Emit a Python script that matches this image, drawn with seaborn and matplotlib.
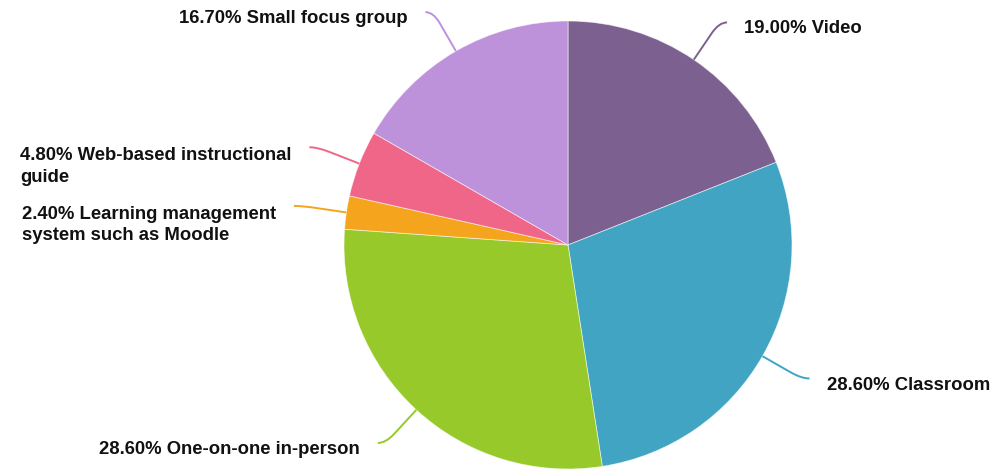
import numpy as np
import matplotlib
matplotlib.use("Agg")
import matplotlib.pyplot as plt
from matplotlib.path import Path
from matplotlib.patches import PathPatch
import seaborn as sns

# Preferred delivery formats (percent of respondents)
categories = [
    "Video",
    "Classroom",
    "One-on-one in-person",
    "Learning management\nsystem such as Moodle",
    "Web-based instructional\nguide",
    "Small focus group",
]
shares = [19.0, 28.6, 28.6, 2.4, 4.8, 16.7]
slice_colors = ["#7C6190", "#41A4C3", "#97C92B", "#F5A51D", "#F06688", "#BE91DB"]

sns.set_theme(style="white")
plt.rcParams["font.family"] = ["Liberation Sans", "DejaVu Sans"]

W, H = 998, 472
fig = plt.figure(figsize=(W / 100, H / 100), dpi=100)
ax = fig.add_axes([0, 0, 1, 1])

cx, cy, R = 568, H - 245, 224
palette = sns.color_palette(slice_colors)

wedges, _ = ax.pie(
    shares,
    colors=palette,
    startangle=90,
    counterclock=False,
    center=(cx, cy),
    radius=R,
    wedgeprops=dict(edgecolor=(1, 1, 1, 0.6), linewidth=0.6),
    frame=True,
)

ax.set_xlim(0, W)
ax.set_ylim(0, H)
ax.set_aspect("equal")
ax.axis("off")

LINE_STEP = 23.5  # vertical distance between wrapped label lines (px)

for w, name, val, col in zip(wedges, categories, shares, palette):
    mid = np.deg2rad((w.theta1 + w.theta2) / 2)
    ux, uy = np.cos(mid), np.sin(mid)
    p0 = np.array([cx + R * ux, cy + R * uy])
    p1 = np.array([cx + (R + 45) * ux, cy + (R + 45) * uy])
    side = 1 if ux >= 0 else -1
    p2 = p1 + np.array([8 * side, 0])
    q = p0 + 0.72 * (p1 - p0)
    path = Path([p0, q, p1, p2],
                [Path.MOVETO, Path.LINETO, Path.CURVE3, Path.CURVE3])
    ax.add_patch(PathPatch(path, facecolor="none", edgecolor=col, lw=1.4))

    label = f"{val:.2f}% {name}"
    n_lines = label.count("\n") + 1
    tx = p2[0] + (17 if side > 0 else -18)
    # first line's baseline sits just below the end of the leader line
    ty = p2[1] - 11 - LINE_STEP * (n_lines - 1)
    ax.text(tx, ty, label,
            ha="left" if side > 0 else "right",
            va="baseline", multialignment="left",
            fontsize=13.3, fontweight="bold", color="#111111",
            linespacing=1.37)

fig.savefig("out.png", dpi=100, facecolor="white")
